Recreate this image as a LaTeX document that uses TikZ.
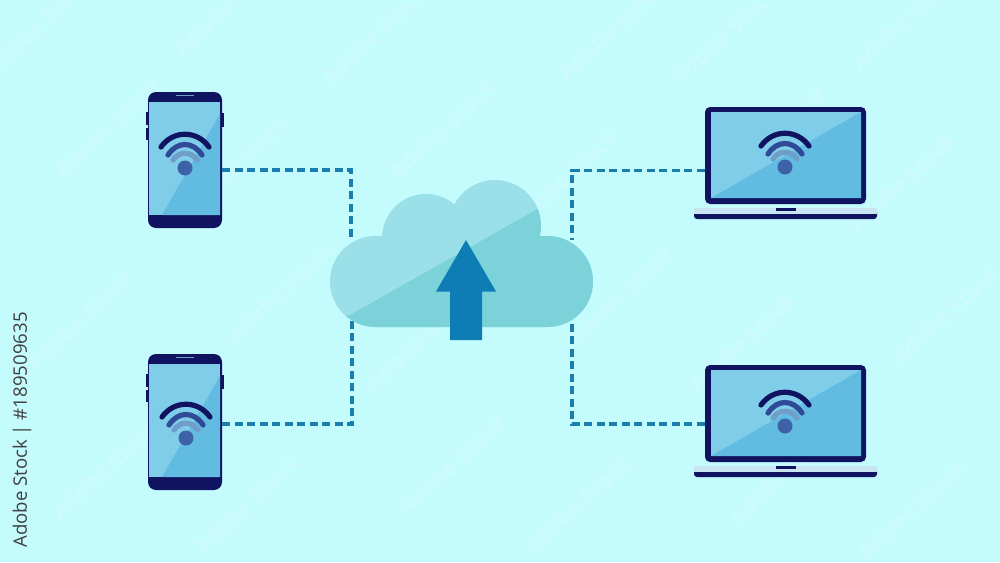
\documentclass[tikz,border=0pt]{standalone}
\usepackage{fontspec}
\setmainfont{Open Sans}
\definecolor{bgblue}{HTML}{C4FBFD}
\definecolor{navy}{HTML}{10135F}
\definecolor{linkblue}{HTML}{1A7FAE}
\definecolor{arrowblue}{HTML}{0F7DB5}
\definecolor{cloudlight}{HTML}{9BE0E9}
\definecolor{clouddark}{HTML}{7BD2D9}
\definecolor{screenlight}{HTML}{80CDE9}
\definecolor{screendark}{HTML}{62BBE0}
\definecolor{wifimid}{HTML}{2F4A96}
\definecolor{wifilow}{HTML}{6F9FC8}
\definecolor{wifidot}{HTML}{3D62A8}
\definecolor{basestrip}{HTML}{C8E6F2}
\begin{document}
\begin{tikzpicture}[x=1pt,y=-1pt]
\tikzstyle{every node}=[inner sep=0pt, minimum width=0pt]
\tikzstyle{phone}=[fill=navy, rounded corners=8pt, minimum width=74pt, minimum height=136pt]
\tikzstyle{laptop}=[fill=navy, rounded corners=5pt, minimum width=161pt, minimum height=97pt]
\tikzstyle{link}=[linkblue, line width=3.2pt, dash pattern=on 8pt off 4.5pt]
\tikzstyle{wave}=[line width=5.2pt, line cap=round]
\useasboundingbox (0,0) rectangle (1000,562);
\clip (0,0) rectangle (1000,562);
\fill[bgblue] (0,0) rectangle (1000,562);
% faint marks
\foreach \x/\y in {40/25,108/127,235/165,228/5,375/35,442/130,565/178,612/30,725/35,772/137,902/182,905/20,
  280/292,80/320,620/295,420/340,742/342,945/315,105/470,247/505,452/465,577/505,783/475,912/510}
  \node[white, opacity=.16, rotate=42, font=\bfseries\fontsize{22}{22}\selectfont] (m\x) at (\x,\y) {Adobe Stock};
% phones
\foreach \n/\y in {1/160,2/422} {
  \fill[navy] (146,\y-48) rectangle (149,\y-35);
  \fill[navy] (146,\y-32) rectangle (149,\y-20);
  \fill[navy] (221,\y-47) rectangle (224,\y-33);
  \draw (185,\y) node (v\n) [phone] {};
  \fill[screenlight] (149,\y-58) rectangle (220,\y+55);
  \fill[screendark] (162,\y+55) -- (220,\y-46) -- (220,\y+55) -- cycle;
  \fill[wifilow] (176,\y-65.5) rectangle (194,\y-64);
}
% laptops
\foreach \n/\y in {3/155.5,4/413.5} {
  \draw (785.5,\y) node (v\n) [laptop] {};
  \fill[screenlight] (711,\y-43.5) rectangle (861,\y+42.5);
  \fill[screendark] (711,\y+42.5) -- (861,\y-43.5) -- (861,\y+42.5) -- cycle;
  \fill[navy, rounded corners=3pt] (694,\y+54) rectangle (877,\y+63.5);
  \fill[basestrip] (694,\y+52.5) rectangle (877,\y+58.5);
  \fill[navy] (776,\y+52.5) rectangle (796,\y+55.5);
}
% wifi signs
\foreach \x/\y in {185/168,186/438,785/167,785/426} {
  \begin{scope}[shift={(\x,\y)}]
  \draw[wave, navy] (-24,-21) .. controls (-12,-38) and (12,-38) .. (24,-21);
  \draw[wave, wifimid] (-17,-13) .. controls (-8,-27) and (8,-27) .. (17,-13);
  \draw[wave, wifilow] (-12,-8) .. controls (-6,-17) and (6,-17) .. (12,-8);
  \fill[wifidot] (0,0) circle (7.5pt);
  \end{scope}
}
% connectors
\coordinate (c1) at (351,240);
\coordinate (c2) at (352,320);
\coordinate (c3) at (572,240);
\coordinate (c4) at (572,320);
\draw[link] ([yshift=-10pt]v1.east) -| (c1);
\draw[link] ([yshift=-2pt]v2.east) -| (c2);
\draw[link] ([yshift=-15pt]v3.west) -| (c3);
\draw[link] ([yshift=-10.5pt]v4.west) -| (c4);
% cloud
\fill[cloudlight] (375.5,281.5) circle (45.5pt) (547.5,281.5) circle (45.5pt)
  (426,238) circle (44pt) (495,226) circle (46pt) (375.5,236) rectangle (547.5,327);
\begin{scope}
\clip (320,320) -- (350,315) -- (541,207) -- (600,207) -- (600,330) -- (320,330) -- cycle;
\fill[clouddark] (375.5,281.5) circle (45.5pt) (547.5,281.5) circle (45.5pt)
  (426,238) circle (44pt) (495,226) circle (46pt) (375.5,236) rectangle (547.5,327);
\end{scope}
\fill[arrowblue] (466,240) -- (496,291.5) -- (482,291.5) -- (482,340) -- (450,340) -- (450,291.5) -- (436,291.5) -- cycle;
% side label
\node[rotate=90, text=black!75, font=\fontsize{18.6}{19}\selectfont] (id) at (22,430) {Adobe Stock | \#189509635};
\end{tikzpicture}
\end{document}
